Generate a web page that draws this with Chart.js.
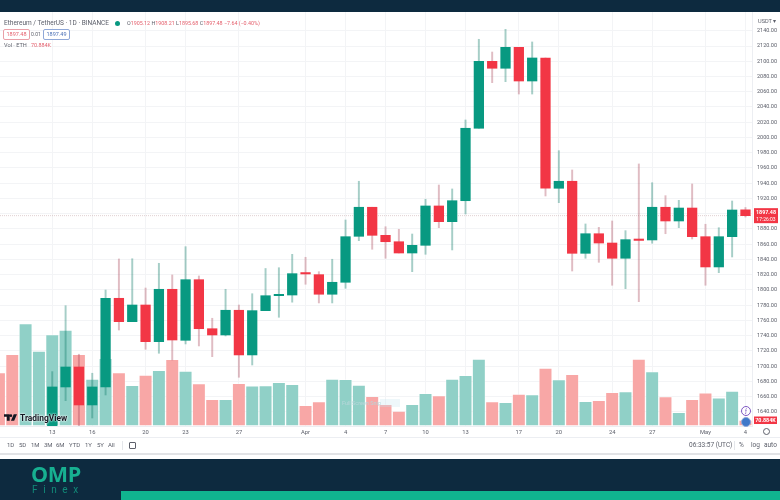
<!DOCTYPE html>
<html>
<head>
<meta charset="utf-8">
<script src="https://cdn.jsdelivr.net/npm/chart.js@4"></script>
<style>
  html, body { margin: 0; padding: 0; background: #fff; }
  #page { position: relative; width: 780px; height: 500px; overflow: hidden; font-family: Roboto, sans-serif; color: #5d606b; }
  #page div, #page span.abs { position: absolute; white-space: nowrap; }
  canvas { position: absolute; left: 0; top: 0; }
  .navy { background: #0d2a3f; left: 0; width: 780px; }
  .red { color: #e4606d; }
  .tag { border-radius: 2px; height: 9px; line-height: 9px; width: 25px; text-align: center; font-size: 5.5px; background: #fff; }
  .range { top: 441px; font-size: 6px; line-height: 8px; }
  .tool { top: 441px; font-size: 6.5px; line-height: 8px; }
</style>
</head>
<body>
<div id="page">
  <canvas id="chart" width="780" height="437"></canvas>

  <div class="navy" style="top:0;height:12px"></div>
  <div style="left:4px;top:18px;font-size:6.5px;line-height:10px">Ethereum / TetherUS · 1D · BINANCE</div>
  <div style="left:115px;top:20.5px;width:5px;height:5px;border-radius:50%;background:#089981"></div>
  <div class="red" style="left:127px;top:19px;font-size:5.35px;line-height:9px"><span style="color:#5d606b">O</span>1905.12 <span style="color:#5d606b">H</span>1908.21 <span style="color:#5d606b">L</span>1895.68 <span style="color:#5d606b">C</span>1897.48 −7.64 (−0.40%)</div>
  <div class="tag red" style="left:3px;top:29px;border:1px solid #e9a0a8">1897.48</div>
  <div style="left:31px;top:30px;font-size:5px;line-height:9px">0.01</div>
  <div class="tag" style="left:43px;top:29px;border:1px solid #8fa8d8;color:#4a6fb5">1897.49</div>
  <div style="left:4px;top:41px;font-size:5.6px;line-height:9px">Vol · ETH</div>
  <div class="red" style="left:31px;top:41px;font-size:5.4px;line-height:9px">70.884K</div>
  <div style="left:758px;top:17px;font-size:5.6px;line-height:8px">USDT ▾</div>

  <div style="left:342px;top:399px;font-size:5.5px;line-height:8px;color:#b8d6da">Full Screen Snip</div>
  <div style="left:380px;top:399px;width:20px;height:8px;background:rgba(200,228,240,.3)"></div>

  <svg style="position:absolute;left:4px;top:414px" width="13" height="8" viewBox="0 0 16 9">
    <path d="M0 0h7v8H3.5V3H0z M8.5 0a1.6 1.6 0 1 1 0 3.2a1.6 1.6 0 0 1 0-3.2z M12 0h4l-3.5 8H8.5z" fill="#131722"/>
  </svg>
  <div style="left:20px;top:412px;font-size:8.4px;line-height:12px;font-weight:700;color:#131722;text-shadow:0 0 2px #fff,0 0 2px #fff">TradingView</div>

  <div style="left:741px;top:406px;width:8px;height:8px;border:1px solid #7e57c2;border-radius:50%;background:#fff;color:#7e57c2;font-size:6px;line-height:8px;text-align:center">ƒ</div>
  <div style="left:741px;top:417px;width:8px;height:8px;border:1px solid #8fa8d8;border-radius:50%;background:#3f78c9"></div>

  <div style="left:0;top:437px;width:780px;height:1px;background:#eceef2"></div>
  <div class="range" style="left:7px">1D</div>
  <div class="range" style="left:19px">5D</div>
  <div class="range" style="left:31px">1M</div>
  <div class="range" style="left:44px">3M</div>
  <div class="range" style="left:56px">6M</div>
  <div class="range" style="left:69px">YTD</div>
  <div class="range" style="left:85px">1Y</div>
  <div class="range" style="left:97px">5Y</div>
  <div class="range" style="left:108px">All</div>
  <div style="left:122px;top:441px;width:1px;height:9px;background:#e4e6ea"></div>
  <div style="left:129px;top:442px;width:5px;height:5px;border:1px solid #5d606b;border-radius:1px"></div>
  <div class="tool" style="left:689px">06:33:57 (UTC)</div>
  <div style="left:734px;top:441px;width:1px;height:9px;background:#e4e6ea"></div>
  <div class="tool" style="left:739px">%</div>
  <div class="tool" style="left:751px">log</div>
  <div class="tool" style="left:764px">auto</div>
  <div style="left:763px;top:428px;width:5px;height:5px;border:1px solid #5d606b;border-radius:50%"></div>
  <div style="left:0;top:453px;width:780px;height:2px;background:#e2e3e6"></div>

  <div class="navy" style="top:459px;height:41px"></div>
  <div style="left:121px;top:491px;width:659px;height:9px;background:#10b48f"></div>
  <div style="left:31px;top:462px;font-size:21.5px;line-height:24px;font-weight:700;color:#17b091;font-family:'Open Sans',sans-serif;letter-spacing:-.3px">OMP</div>
  <div style="left:32px;top:484px;font-size:10px;line-height:12px;color:#128a78;letter-spacing:5.6px">Finex</div>
</div>

<script>
// ETH/USDT daily candles, one entry per day
const days = [
  'Mar 9', 'Mar 10', 'Mar 11', 'Mar 12', 'Mar 13', 'Mar 14', 'Mar 15', 'Mar 16', 'Mar 17', 'Mar 18',
  'Mar 19', 'Mar 20', 'Mar 21', 'Mar 22', 'Mar 23', 'Mar 24', 'Mar 25', 'Mar 26', 'Mar 27', 'Mar 28',
  'Mar 29', 'Mar 30', 'Mar 31', 'Apr 1', 'Apr 2', 'Apr 3', 'Apr 4', 'Apr 5', 'Apr 6', 'Apr 7',
  'Apr 8', 'Apr 9', 'Apr 10', 'Apr 11', 'Apr 12', 'Apr 13', 'Apr 14', 'Apr 15', 'Apr 16', 'Apr 17',
  'Apr 18', 'Apr 19', 'Apr 20', 'Apr 21', 'Apr 22', 'Apr 23', 'Apr 24', 'Apr 25', 'Apr 26', 'Apr 27',
  'Apr 28', 'Apr 29', 'Apr 30', 'May 1', 'May 2', 'May 3', 'May 4'
];
const openPrices = [
  1534, 1434, 1429, 1479, 1587, 1672.8, 1699, 1649.2, 1672.8, 1789.1,
  1758.4, 1780.3, 1732.2, 1800.9, 1734, 1813.5, 1749.2, 1741, 1773.4, 1714.8,
  1772.9, 1792.5, 1793.4, 1821.4, 1820.1, 1794.4, 1810.1, 1870.4, 1908.5, 1871.7,
  1863.3, 1848.5, 1858.6, 1910.2, 1889.6, 1917.1, 2012.1, 2099.9, 2090.8, 2118.3,
  2074.1, 2104.3, 1933.4, 1942.6, 1848.1, 1873.8, 1861.6, 1841.6, 1866, 1865.6,
  1908.5, 1890.5, 1907.5, 1869.9, 1830.2, 1869.9, 1905.12
];
const highPrices = [
  1564, 1445, 1490, 1595, 1692.9, 1779.4, 1715.7, 1690.8, 1800, 1840.7,
  1841, 1802.6, 1835, 1819.7, 1856.8, 1818.4, 1762.9, 1800.9, 1780.3, 1795.1,
  1828.2, 1829.2, 1846.8, 1842.9, 1824, 1840.3, 1891.8, 1942.6, 1908.5, 1883,
  1879.6, 1873.4, 1919, 1937.7, 1932.5, 2023, 2128.8, 2112.1, 2141.9, 2118.3,
  2125.3, 2104.3, 1982.7, 1957.4, 1886.6, 1882.2, 1890.5, 1877.8, 1965.3, 1940.7,
  1923.7, 1917.6, 1939, 1886.2, 1881.7, 1916.7, 1908.21
];
const lowPrices = [
  1420, 1372, 1400, 1465, 1570, 1654.8, 1622, 1632.1, 1662.3, 1747.5,
  1758.4, 1722.2, 1717, 1708.2, 1729.2, 1726.6, 1712.5, 1739.7, 1685.5, 1701.6,
  1772.9, 1764.2, 1784, 1807.5, 1783, 1783, 1802.2, 1864.7, 1853.4, 1841.6,
  1848.5, 1824, 1846.8, 1881.7, 1852.5, 1899.7, 2012.1, 2071.9, 2073.2, 2057,
  2057, 1923.3, 1914.5, 1824.9, 1841.6, 1836.3, 1806.2, 1801.7, 1784.7, 1861.3,
  1873.8, 1881.7, 1866.9, 1806.2, 1822.7, 1843.3, 1895.68
];
const closePrices = [
  1434, 1429, 1479, 1587, 1672.8, 1699, 1649.2, 1672.8, 1789.1, 1758.4,
  1780.3, 1732.2, 1800.9, 1734.4, 1813.5, 1749.2, 1741, 1773.4, 1714.8, 1772.9,
  1792.5, 1793.4, 1821.4, 1821, 1794.4, 1810.1, 1869.9, 1908.5, 1871.7, 1863.3,
  1848.5, 1858.6, 1910.2, 1889.6, 1917.1, 2012.1, 2099.9, 2090.8, 2118.3, 2074.1,
  2104.3, 1933.4, 1942.6, 1848.1, 1873.8, 1861.6, 1841.6, 1866, 1865, 1908.5,
  1890.5, 1907.5, 1869.9, 1830.2, 1869.9, 1904.9, 1897.48
];
// volume in thousands of ETH
const volumes = [
  631, 849, 1211, 888, 1081, 1136, 849, 556, 801, 631,
  482, 604, 659, 790, 651, 501, 316, 316, 506, 474,
  477, 517, 494, 245, 288, 556, 553, 485, 352, 257,
  178, 257, 387, 359, 556, 600, 793, 288, 281, 379,
  371, 687, 548, 612, 292, 304, 399, 406, 793, 643,
  347, 162, 316, 394, 332, 414, 70.884
];

const tickDays = ['Mar 13', 'Mar 16', 'Mar 20', 'Mar 23', 'Mar 27', 'Apr 1', 'Apr 4', 'Apr 7', 'Apr 10', 'Apr 13', 'Apr 17', 'Apr 20', 'Apr 24', 'Apr 27', 'May 1', 'May 4'];
const tickLabels = ['13', '16', '20', '23', '27', 'Apr', '4', '7', '10', '13', '17', '20', '24', '27', 'May', '4'];
const priceTicks = [1640, 1660, 1680, 1700, 1720, 1740, 1760, 1780, 1800, 1820, 1840, 1860, 1880, 1900, 1920, 1940, 1960, 1980, 2000, 2020, 2040, 2060, 2080, 2100, 2120, 2140];

const lastPrice = 1897.48;
const lastVolume = 70.884;

const GREEN = '#089981';
const RED = '#f23645';
const X_MIN = 0.08;
const X_MAX = 56.49;

const isUp = days.map((d, i) => closePrices[i] >= openPrices[i]);
const tickIndex = tickDays.map(d => days.indexOf(d));

// price tags on the right axis
const axisTags = {
  id: 'axisTags',
  afterDraw(chart) {
    const c = chart.ctx;
    const py = chart.scales.y.getPixelForValue(lastPrice);
    const vy = chart.scales.volume.getPixelForValue(lastVolume);
    c.save();
    c.fillStyle = RED;
    c.fillRect(754, py - 7.5, 24, 15);
    c.fillRect(754, vy - 3.5, 23, 7.5);
    c.fillStyle = '#fff';
    c.textAlign = 'center';
    c.textBaseline = 'middle';
    c.font = 'bold 5.4px Roboto, sans-serif';
    c.fillText('1897.48', 766, py - 3);
    c.fillText('70.884K', 765.5, vy + 0.3);
    c.font = '5px Roboto, sans-serif';
    c.fillText('17:26:03', 766, py + 3.6);
    c.restore();
  }
};

new Chart(document.getElementById('chart'), {
  type: 'bar',
  plugins: [axisTags],
  data: {
    datasets: [
      {
        // last price line
        type: 'line',
        data: [{ x: X_MIN, y: lastPrice }, { x: X_MAX, y: lastPrice }],
        borderColor: 'rgba(200, 170, 172, 0.55)',
        borderWidth: 1,
        borderDash: [1, 1],
        pointRadius: 0,
        order: 4
      },
      {
        yAxisID: 'volume',
        data: days.map((d, i) => ({ x: i, y: volumes[i] })),
        backgroundColor: isUp.map(up => up ? '#90d0c7' : '#f8a7a6'),
        borderColor: 'rgba(255, 255, 255, 0.35)',
        borderWidth: 1,
        borderSkipped: false,
        barThickness: 13.3,
        order: 3
      },
      {
        // wicks
        data: days.map((d, i) => ({ x: i, y: [lowPrices[i], highPrices[i]] })),
        backgroundColor: isUp.map(up => up ? 'rgba(8, 120, 100, 0.36)' : 'rgba(170, 70, 90, 0.36)'),
        barThickness: 1.3,
        order: 2
      },
      {
        // bodies
        data: days.map((d, i) => ({
          x: i,
          y: [Math.min(openPrices[i], closePrices[i]), Math.max(openPrices[i], closePrices[i])]
        })),
        backgroundColor: isUp.map(up => up ? GREEN : RED),
        minBarLength: 1.4,
        barThickness: 9.6,
        order: 1
      }
    ]
  },
  options: {
    responsive: false,
    animation: false,
    layout: { padding: { top: 12 } },
    datasets: { bar: { grouped: false } },
    plugins: { legend: { display: false }, tooltip: { enabled: false } },
    scales: {
      x: {
        type: 'linear',
        offset: false,
        min: X_MIN,
        max: X_MAX,
        afterBuildTicks(scale) { scale.ticks = tickIndex.map(v => ({ value: v })); },
        afterFit(scale) { scale.height = 11; },
        grid: { offset: false, color: '#f3f4f6', drawTicks: false },
        border: { color: '#eceef2' },
        ticks: {
          autoSkip: false,
          maxRotation: 0,
          padding: 3,
          color: '#5d606b',
          font: { size: 5.8, family: 'Roboto, sans-serif' },
          callback(value) { return tickLabels[tickIndex.indexOf(value)]; }
        }
      },
      y: {
        position: 'right',
        min: 1621.6,
        max: 2164.6,
        afterBuildTicks(scale) { scale.ticks = priceTicks.map(v => ({ value: v })); },
        afterFit(scale) { scale.width = 28; },
        grid: { color: '#f3f4f6', drawTicks: false },
        border: { color: '#eceef2' },
        ticks: {
          padding: 5,
          color: '#5d606b',
          font: { size: 5.5, family: 'Roboto, sans-serif' },
          callback(value) { return value.toFixed(2); }
        }
      },
      volume: {
        display: false,
        min: 0,
        max: 4900
      }
    }
  }
});
</script>
</body>
</html>
